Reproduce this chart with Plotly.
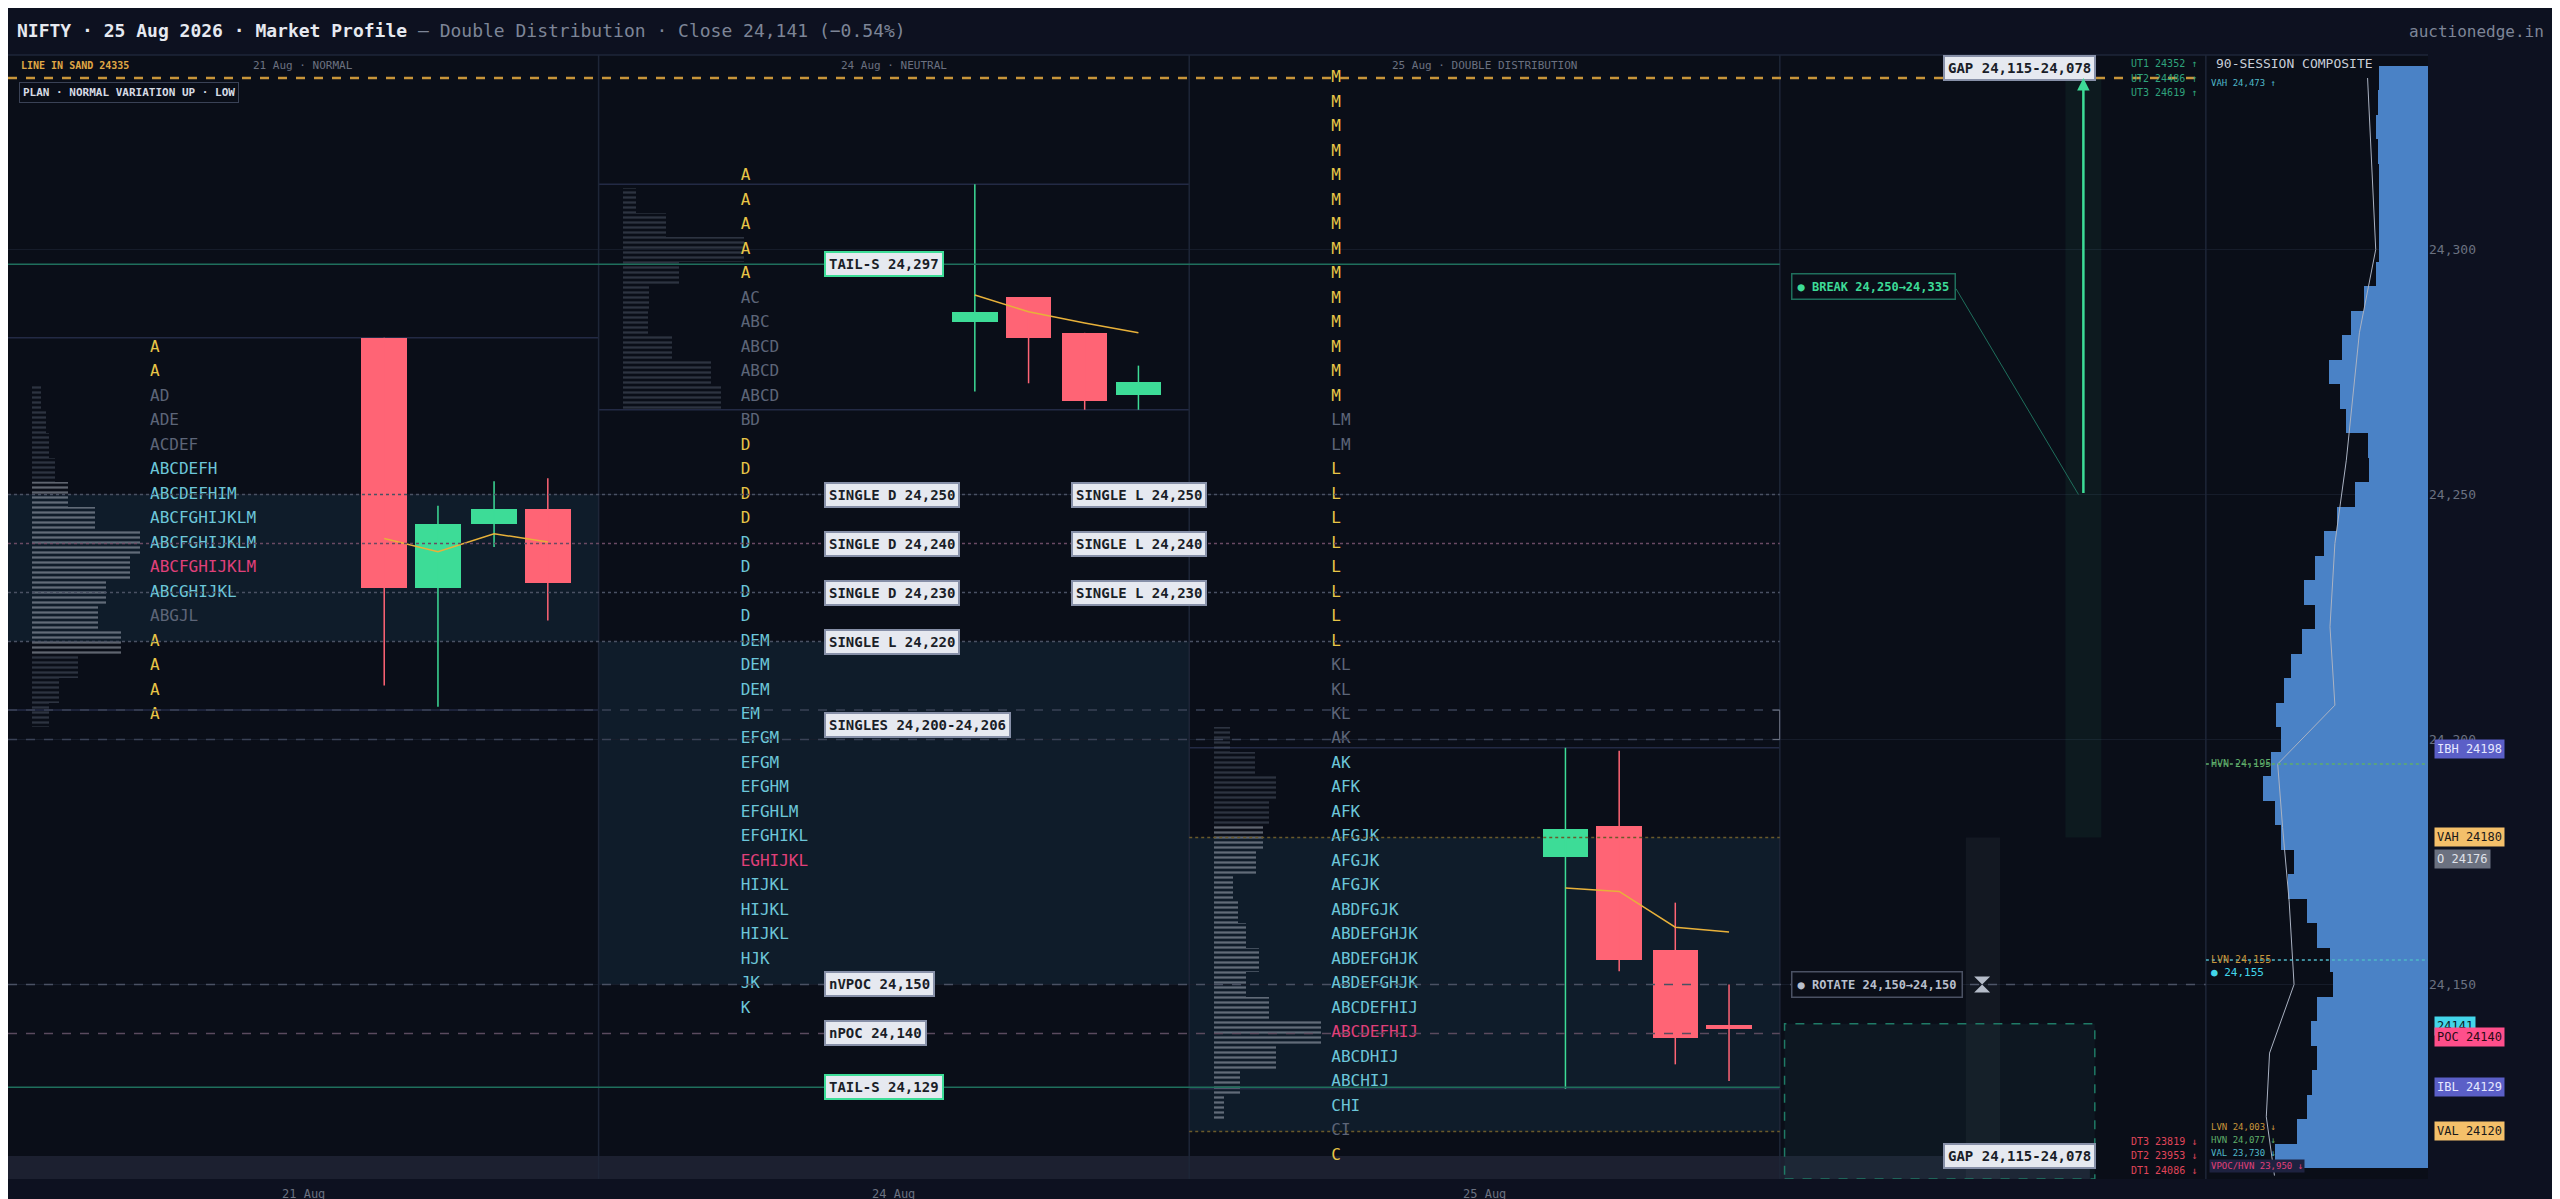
import plotly.graph_objects as go

# ---- data ----
TITLE = "NIFTY · 25 Aug 2026 · Market Profile"
SUBTITLE = " — Double Distribution · Close 24,141 (−0.54%)"
sessions = ["21 Aug", "24 Aug", "25 Aug"]
session_types = ["NORMAL", "NEUTRAL", "DOUBLE DISTRIBUTION"]

# TPO rows (top price, 5-pt rows) and letter strings / colour codes
s1_top = 24280
s1_tpo = ["A", "A", "AD", "ADE", "ACDEF", "ABCDEFH", "ABCDEFHIM", "ABCFGHIJKLM", "ABCFGHIJKLM",
          "ABCFGHIJKLM", "ABCGHIJKL", "ABGJL", "A", "A", "A", "A"]
s1_col = "yygggccccpcgyyyy"
s2_top = 24315
s2_tpo = ["A"] * 5 + ["AC", "ABC", "ABCD", "ABCD", "ABCD", "BD"] + ["D"] * 8 + \
         ["DEM", "DEM", "DEM", "EM", "EFGM", "EFGM", "EFGHM", "EFGHLM", "EFGHIKL", "EGHIJKL",
          "HIJKL", "HIJKL", "HIJKL", "HJK", "JK", "K"]
s2_col = "yyyyygggggg" + "yyyycccc" + "cccccccccp" + "cccccc" + "y"
s3_top = 24335
s3_tpo = ["M"] * 14 + ["LM", "LM"] + ["L"] * 8 + ["KL", "KL", "KL", "AK", "AK", "AFK", "AFK",
          "AFGJK", "AFGJK", "AFGJK", "ABDFGJK", "ABDEFGHJK", "ABDEFGHJK", "ABDEFGHJK",
          "ABCDEFHIJ", "ABCDEFHIJ", "ABCDHIJ", "ABCHIJ", "CHI", "CI", "C"]
s3_col = "y" * 14 + "gg" + "y" * 8 + "ggggc" + "cc" + "ccc" + "c" + "ccc" + "cp" + "ccc" + "gy"

# session volume histograms (price, volume)
s1_hist_p = [24270, 24265, 24260, 24255, 24250, 24245, 24240, 24235, 24230, 24225, 24220, 24215, 24210, 24205]
s1_hist_v = [5, 8, 10, 14, 22, 38, 66, 60, 45, 40, 54, 28, 16, 10]
s2_hist_p = [24310, 24305, 24300, 24295, 24290, 24285, 24280, 24275, 24270]
s2_hist_v = [8, 26, 74, 34, 16, 15, 30, 54, 60]
s3_hist_p = [24200, 24195, 24190, 24185, 24180, 24175, 24170, 24165, 24160, 24155, 24150, 24145, 24140, 24135, 24130, 24125]
s3_hist_v = [10, 25, 38, 34, 30, 26, 12, 15, 20, 28, 20, 34, 66, 38, 16, 6]

va_low = [24220, 24150, 24120]
va_high = [24250, 24220, 24180]
ib_high = [24282, 24313.3, 24198.3]
ib_low = [24206, 24267.3, 24128.7]

# 30-min candles per session
c_open = [[24282, 24231, 24244, 24247], [24285.3, 24290.3, 24283, 24270.3], [24176, 24182.3, 24157, 24141.7]]
c_high = [[24282, 24247.7, 24252.7, 24253.3], [24313.3, 24290.3, 24283, 24276.3], [24198.3, 24197.7, 24166.7, 24150]]
c_low = [[24211, 24206.7, 24239.3, 24224.3], [24271, 24272.7, 24267.3, 24267.3], [24128.7, 24152.7, 24133.7, 24130.3]]
c_close = [[24231, 24244, 24247, 24232], [24287.3, 24282, 24269, 24273], [24181.7, 24155, 24139, 24141]]
vwap = [[24241, 24238.3, 24242, 24240.3], [24290.7, 24287.3, 24285, 24283], [24169.7, 24169, 24161.7, 24160.7]]

# 90-session composite (price rows, volume)
comp_p = [24335 - 5 * i for i in range(45)]
comp_v = [30, 31, 32, 31, 30, 30, 30, 30, 32, 39, 47, 53, 61, 54, 50, 37, 36, 45, 56, 64,
          69, 76, 69, 77, 84, 88, 93, 90, 96, 101, 94, 90, 82, 86, 74, 68, 60, 58, 68, 72,
          68, 71, 74, 80, 94]
comp_line_p = [24335, 24300, 24283, 24257, 24240, 24223, 24207, 24195, 24182, 24167, 24150, 24136, 24123, 24111]
comp_line_v = [37, 32, 42, 50, 57, 60, 57, 92, 89, 85, 82, 97, 99, 94]

# reference lines: (price, dash, colour)
ref_lines = [(24297, "solid", "#1f6f5c"), (24250, "dot", "#4a5163"), (24240, "dot", "#6a4a63"),
             (24230, "dot", "#4a5163"), (24220, "dot", "#4a5163"), (24206, "dash", "#3a4256"),
             (24200, "dash", "#3a4256"), (24150, "dash", "#4a5163"), (24140, "dash", "#5a4a5e"),
             (24129, "solid", "#1f6f5c")]
tags = [("TAIL-S 24,297", 24297, 500, "#3ddc97"), ("SINGLE D 24,250", 24250, 500, "#8790a8"),
        ("SINGLE L 24,250", 24250, 651, "#8790a8"), ("SINGLE D 24,240", 24240, 500, "#8790a8"),
        ("SINGLE L 24,240", 24240, 651, "#8790a8"), ("SINGLE D 24,230", 24230, 500, "#8790a8"),
        ("SINGLE L 24,230", 24230, 651, "#8790a8"), ("SINGLE L 24,220", 24220, 500, "#8790a8"),
        ("SINGLES 24,200-24,206", 24203, 500, "#8790a8"), ("nVPOC 24,150", 24150, 500, "#8790a8"),
        ("nPOC 24,140", 24140, 500, "#8790a8"), ("TAIL-S 24,129", 24129, 500, "#3ddc97")]
badges = [("IBH 24198", 24198, "#5b5fc7", "#e6e8ff", 0), ("VAH 24180", 24180, "#f4c06a", "#1a1a1a", 0),
          ("O 24176", 24176, "#6b7180", "#e0e3ea", -2), ("24141", 24141, "#43d6ea", "#0b1a22", 3),
          ("POC 24140", 24140, "#ff4f8b", "#2a0b16", -4), ("IBL 24129", 24129, "#5b5fc7", "#e6e8ff", 0),
          ("VAL 24120", 24120, "#f4c06a", "#1a1a1a", 0)]

YMIN, YMAX = 24110.3, 24339.7
S = 361.7          # px per session in the 1568-wide layout
XMAX = 1346 / S    # right edge of main x axis
FONT = "DejaVu Sans Mono"
BG = "#0a0e18"
COLS = {"y": "#e8c547", "g": "#5d6578", "c": "#6cc6d9", "p": "#e0407a"}

fig = go.Figure()

shapes = []
for i in range(3):
    shapes.append(dict(type="rect", xref="x", yref="y", x0=i, x1=i + 1, y0=va_low[i], y1=va_high[i],
                       fillcolor="#0f1c2a", line_width=0, layer="below"))
    for p in (ib_high[i], ib_low[i]):
        shapes.append(dict(type="line", xref="x", yref="y", x0=i, x1=i + 1, y0=p, y1=p,
                           line=dict(color="#232a45", width=1.5), layer="below"))
shapes.append(dict(type="rect", xref="x", yref="y", x0=0, x1=1275 / S, y0=YMIN, y1=24115,
                   fillcolor="#1c2030", line_width=0, layer="below"))
for x in (1, 2, 3):
    shapes.append(dict(type="line", xref="x", yref="paper", x0=x, x1=x, y0=0, y1=1,
                       line=dict(color="#1e2638", width=1.5)))
shapes.append(dict(type="line", xref="paper", yref="paper", x0=0.9082, x1=0.9082, y0=0, y1=1,
                   line=dict(color="#1e2638", width=1.5)))
for p, dash, col in ref_lines:
    x1 = XMAX if p == 24150 else 3
    shapes.append(dict(type="line", xref="x", yref="y", x0=0, x1=x1, y0=p, y1=p,
                       line=dict(color=col, width=1.5, dash=dash)))
for p in (va_low[2], va_high[2]):
    shapes.append(dict(type="line", xref="x", yref="y", x0=2, x1=3, y0=p, y1=p,
                       line=dict(color="#6b5a2a", width=1.5, dash="dot")))
shapes.append(dict(type="line", xref="x", yref="y", x0=0, x1=1340 / S, y0=24335, y1=24335,
                   line=dict(color="#c8953a", width=2.5, dash="dash")))
shapes += [
    dict(type="rect", xref="x", yref="y", x0=1260 / S, x1=1282 / S, y0=24180, y1=24335,
         fillcolor="rgba(61,220,151,0.06)", line_width=0),
    dict(type="rect", xref="x", yref="y", x0=1199 / S, x1=1220 / S, y0=YMIN, y1=24180,
         fillcolor="rgba(140,150,170,0.07)", line_width=0),
    dict(type="rect", xref="x", yref="y", x0=1088 / S, x1=1278 / S, y0=YMIN, y1=24142,
         fillcolor="rgba(40,90,100,0.12)", line=dict(color="#1f7a66", width=1.5, dash="dash")),
    dict(type="line", xref="x", yref="y", x0=1193 / S, x1=1268 / S, y0=24292, y1=24250,
         line=dict(color="#1f6f5c", width=1)),
    dict(type="path", xref="x", yref="y",
         path=f"M {1081 / S},24206 L {1085 / S},24206 L {1085 / S},24200 L {1081 / S},24200",
         line=dict(color="#6b7180", width=1)),
    dict(type="line", xref="x2", yref="y", x0=136, x1=0, y0=24195, y1=24195,
         line=dict(color="#5fae6a", width=1.5, dash="dot")),
    dict(type="line", xref="x2", yref="y", x0=136, x1=0, y0=24155, y1=24155,
         line=dict(color="#4fb8c8", width=1.5, dash="dot")),
    dict(type="line", xref="paper", yref="paper", x0=0, x1=1, y0=1, y1=1,
         line=dict(color="#1e2638", width=1.5)),
]

# histograms drawn as thin striped bars
for i, (hp, hv) in enumerate([(s1_hist_p, s1_hist_v), (s2_hist_p, s2_hist_v), (s3_hist_p, s3_hist_v)]):
    cols = ["#b4bac6" if va_low[i] <= p <= va_high[i] else "#4f576a" for p in hp]
    fig.add_trace(go.Bar(x=[v / S for v in hv], y=hp, base=i + 15 / S, orientation="h", width=5,
                         marker=dict(color="rgba(0,0,0,0)", line_width=0,
                                     pattern=dict(shape="-", fgcolor=cols, bgcolor="rgba(0,0,0,0)",
                                                  size=5, solidity=0.45, fillmode="overlay")),
                         hoverinfo="skip", showlegend=False))

# TPO letters
for i, (top, letters, cc) in enumerate([(s1_top, s1_tpo, s1_col), (s2_top, s2_tpo, s2_col), (s3_top, s3_tpo, s3_col)]):
    ys = [top - 5 * k for k in range(len(letters))]
    fig.add_trace(go.Scatter(x=[i + 87 / S] * len(letters), y=ys, mode="text", text=letters,
                             textposition="middle right",
                             textfont=dict(family=FONT, size=16, color=[COLS[c] for c in cc]),
                             hoverinfo="skip", showlegend=False))

# candles
cx_off = [0.637, 0.728, 0.823, 0.914]
for i in range(3):
    xs = [i + o for o in cx_off]
    for j in range(4):
        o, h, l, c = c_open[i][j], c_high[i][j], c_low[i][j], c_close[i][j]
        col = "#3ddc97" if c >= o else "#ff6475"
        fig.add_trace(go.Scatter(x=[xs[j], xs[j]], y=[l, h], mode="lines",
                                 line=dict(color=col, width=1.5), hoverinfo="skip", showlegend=False))
        body = max(abs(c - o), 0.8)
        fig.add_trace(go.Bar(x=[xs[j]], y=[body], base=min(o, c), width=0.077,
                             marker=dict(color=col, line_width=0), showlegend=False))
    fig.add_trace(go.Scatter(x=xs, y=vwap[i], mode="lines", line=dict(color="#e8b13a", width=1.5),
                             hoverinfo="skip", showlegend=False))

# composite
fig.add_trace(go.Bar(x=comp_v, y=comp_p, orientation="h", width=5, xaxis="x2", yaxis="y",
                     marker=dict(color="#4a82c6", line_width=0), showlegend=False))
fig.add_trace(go.Scatter(x=comp_line_v, y=comp_line_p, xaxis="x2", yaxis="y", mode="lines",
                         line=dict(color="#aab2c2", width=1), showlegend=False, hoverinfo="skip"))

fig.add_trace(go.Scatter(x=[1209 / S], y=[24150], mode="markers",
                         marker=dict(symbol="hourglass", size=16, color="#b8bfcc"), showlegend=False))

ann = []
ann.append(dict(xref="paper", yref="paper", x=0.003, y=1, yanchor="bottom", xanchor="left", yshift=12,
                text=f"<b>{TITLE}</b><span style='color:#7d8597'>{SUBTITLE}</span>", showarrow=False,
                font=dict(family=FONT, size=18, color="#e6e9f0")))
ann.append(dict(xref="paper", yref="paper", x=1, y=1, yanchor="bottom", xanchor="right", yshift=12,
                xshift=118, text="auctionedge.in", showarrow=False, font=dict(family=FONT, size=16, color="#7d8597")))
for i in range(3):
    ann.append(dict(xref="x", yref="paper", x=i + 0.5, y=1, yanchor="top", yshift=-2,
                    text=f"{sessions[i]} · {session_types[i]}", showarrow=False,
                    font=dict(family=FONT, size=11, color="#6b7180")))
    ann.append(dict(xref="x", yref="paper", x=i + 0.5, y=0, yanchor="top", yshift=-6,
                    text=sessions[i], showarrow=False, font=dict(family=FONT, size=12, color="#6b7180")))
for text, p, xd, stripe in tags:
    ann.append(dict(xref="x", yref="y", x=xd / S, y=p, xanchor="left", text=f"<b>{text}</b>", showarrow=False,
                    bgcolor="#e6e9f0", bordercolor=stripe, borderwidth=2, borderpad=3,
                    font=dict(family=FONT, size=14, color="#1a1e28")))
for text, p, bg, fg, dy in badges:
    ann.append(dict(xref="paper", yref="y", x=1, y=p, xanchor="left", xshift=6, yshift=dy, text=text,
                    showarrow=False, bgcolor=bg, borderpad=2, font=dict(family=FONT, size=12, color=fg)))
ann += [
    dict(xref="x", yref="y", x=7 / S, y=24337.5, xanchor="left", text="<b>LINE IN SAND 24335</b>",
         showarrow=False, font=dict(family=FONT, size=10, color="#e0a845")),
    dict(xref="x", yref="y", x=7 / S, y=24332, xanchor="left", text="<b>PLAN · NORMAL VARIATION UP · LOW</b>",
         showarrow=False, bgcolor=BG, bordercolor="#3a4256", borderwidth=1, borderpad=3,
         font=dict(family=FONT, size=11, color="#d6dae3")),
    dict(xref="x", yref="y", x=1185 / S, y=24337, xanchor="left", text="<b>GAP 24,115-24,078</b>",
         showarrow=False, bgcolor="#e6e9f0", bordercolor="#8790a8", borderwidth=2, borderpad=3,
         font=dict(family=FONT, size=14, color="#1a1e28")),
    dict(xref="x", yref="y", x=1185 / S, y=24115, xanchor="left", text="<b>GAP 24,115-24,078</b>",
         showarrow=False, bgcolor="#e6e9f0", bordercolor="#8790a8", borderwidth=2, borderpad=3,
         font=dict(family=FONT, size=14, color="#1a1e28")),
    dict(xref="x", yref="y", x=1271 / S, y=24335, ax=1271 / S, ay=24250, axref="x", ayref="y",
         text="", showarrow=True, arrowhead=2, arrowsize=1, arrowwidth=2.5, arrowcolor="#3ddc97"),
    dict(xref="x", yref="y", x=1092 / S, y=24292.5, xanchor="left", text="<b>● BREAK 24,250→24,335</b>",
         showarrow=False, bgcolor=BG, bordercolor="#1f6f5c", borderwidth=1.5, borderpad=5,
         font=dict(family=FONT, size=12, color="#3ddc97")),
    dict(xref="x", yref="y", x=1092 / S, y=24150, xanchor="left", text="<b>● ROTATE 24,150→24,150</b>",
         showarrow=False, bgcolor=BG, bordercolor="#4a5163", borderwidth=1.5, borderpad=5,
         font=dict(family=FONT, size=12, color="#b8bfcc")),
]
for k, t in enumerate(["UT1 24352 ↑", "UT2 24486 ↑", "UT3 24619 ↑"]):
    ann.append(dict(xref="x", yref="y", x=1342 / S, y=24338 - 3 * k, xanchor="right", text=t, showarrow=False,
                    font=dict(family=FONT, size=10, color="#2fa37c")))
for k, t in enumerate(["DT3 23819 ↓", "DT2 23953 ↓", "DT1 24086 ↓"]):
    ann.append(dict(xref="x", yref="y", x=1342 / S, y=24118 - 3 * k, xanchor="right", text=t, showarrow=False,
                    font=dict(family=FONT, size=10, color="#e0455a")))
comp_txt = [("90-SESSION COMPOSITE", 24338, 13, "#c9ced8", None), ("VAH 24,473 ↑", 24334, 9, "#4fb8c8", None),
            ("HVN 24,195", 24195, 10, "#5fae6a", None), ("LVN 24,155", 24155, 10, "#c8953a", None),
            ("● 24,155", 24152.5, 11, "#43d6ea", None), ("LVN 24,003 ↓", 24121, 9, "#c8953a", None),
            ("HVN 24,077 ↓", 24118.3, 9, "#5fae6a", None), ("VAL 23,730 ↓", 24115.6, 9, "#4fb8c8", None),
            ("VPOC/HVN 23,950 ↓", 24112.9, 9, "#e0407a", "#1e2240")]
for t, p, sz, col, bg in comp_txt:
    ann.append(dict(xref="x2", yref="y", x=134 if "COMP" not in t else 131, y=p, xanchor="left", text=t,
                    showarrow=False, bgcolor=bg, font=dict(family=FONT, size=sz, color=col)))

fig.update_layout(
    width=2560, height=1199, margin=dict(l=0, r=140, t=47, b=28),
    paper_bgcolor="#0d1120", plot_bgcolor=BG, barmode="overlay", bargap=0,
    xaxis=dict(domain=[0, 0.9082], range=[0, XMAX], visible=False, fixedrange=True),
    xaxis2=dict(domain=[0.9082, 1], range=[136, 0], visible=False, anchor="y"),
    yaxis=dict(range=[YMIN, YMAX], side="right", anchor="x2", tickvals=[24150, 24200, 24250, 24300],
               ticktext=["24,150", "24,200", "24,250", "24,300"], ticks="", showline=False,
               tickfont=dict(family=FONT, size=13, color="#6b7180"),
               showgrid=True, gridcolor="#161c2a", zeroline=False),
    shapes=shapes, annotations=ann, font=dict(family=FONT), showlegend=False,
)
fig.write_html("out.html")
